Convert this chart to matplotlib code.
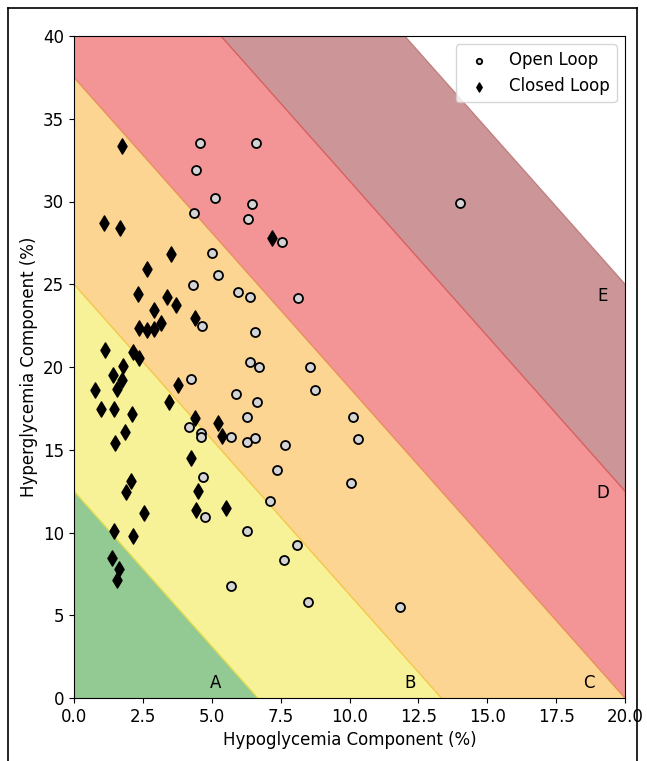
import numpy as np
import matplotlib
matplotlib.use('Agg')
from matplotlib import pyplot as plt
from matplotlib.lines import Line2D

# ----- data -----
open_hypo = [4.56, 6.62, 4.42, 5.11, 6.47, 4.34, 6.33, 7.54, 14.0, 5.0, 5.24, 4.31, 5.95, 6.40, 8.14,
             4.66, 6.58, 6.40, 6.72, 8.55, 4.25, 8.76, 5.89, 6.64, 6.27, 10.13, 4.19, 4.60, 4.61, 5.71,
             6.27, 6.58, 10.31, 7.67, 7.36, 4.67, 10.07, 7.11, 4.75, 6.27, 8.11, 7.63, 5.71, 8.48, 11.83]
open_hyper = [33.55, 33.55, 31.9, 30.19, 29.87, 29.28, 28.94, 27.53, 29.9, 26.9, 25.54, 24.97, 24.55, 24.22, 24.15,
              22.46, 22.11, 20.30, 20.0, 20.0, 19.27, 18.6, 18.35, 17.86, 16.97, 16.98, 16.37, 16.0, 15.77, 15.75,
              15.45, 15.68, 15.67, 15.29, 13.8, 13.33, 13.01, 11.92, 10.95, 10.11, 9.24, 8.34, 6.75, 5.80, 5.52]

closed_hypo = [1.74, 1.09, 1.67, 3.53, 2.64, 2.32, 3.39, 3.69, 2.92, 4.40, 3.15, 2.36, 2.64, 2.92, 1.13,
               2.15, 2.37, 1.78, 1.40, 1.75, 1.55, 0.75, 3.76, 3.46, 0.97, 1.44, 2.12, 4.38, 5.24, 1.85,
               5.36, 1.50, 4.24, 2.06, 1.89, 4.51, 5.51, 4.44, 2.53, 1.44, 2.15, 1.37, 1.62, 1.55, 7.19]
closed_hyper = [33.35, 28.72, 28.42, 26.83, 25.94, 24.39, 24.25, 23.75, 23.44, 22.94, 22.66, 22.34, 22.24, 22.30, 21.03,
                20.89, 20.56, 20.08, 19.5, 19.24, 18.65, 18.61, 18.93, 17.91, 17.46, 17.46, 17.16, 16.92, 16.6, 16.07,
                15.85, 15.42, 14.5, 13.13, 12.47, 12.5, 11.46, 11.36, 11.16, 10.07, 9.81, 8.48, 7.81, 7.13, 27.81]

# GRI = 3.0*hypo + 1.6*hyper, zone limits
gri_limits = [20, 40, 60, 80, 100]
zone_names = ['A', 'B', 'C', 'D', 'E']
zone_colors = ['#93c993', '#f7f197', '#fcd593', '#f39497', '#cc9597']
line_colors = ['#e0dc50', '#f5c64a', '#e8905a', '#d86060', '#c08080']

fig = plt.figure(figsize=(6.47, 7.61), dpi=100)
ax = fig.add_axes([74/647, 1-698/761, 551/647, 662/761])

x = np.linspace(0, 20, 801)
lower = np.zeros_like(x)
for g, c, lc in zip(gri_limits, zone_colors, line_colors):
	upper = np.maximum((g - 3.0*x)/1.6, 0)
	ax.fill_between(x, lower, upper, color=c, lw=0)
	ax.plot(x, (g - 3.0*x)/1.6, color=lc, lw=1)
	lower = upper

ax.scatter(open_hypo, open_hyper, marker='o', s=42, facecolor='#d4d4d4', edgecolor='black', lw=1.3,
	label='Open Loop', zorder=3)
ax.scatter(closed_hypo, closed_hyper, marker='d', s=60, color='black', label='Closed Loop', zorder=3)

# zone letters
ax.text(5.15, 0.9, 'A', fontsize=12, ha='center', va='center')
ax.text(12.2, 0.9, 'B', fontsize=12, ha='center', va='center')
ax.text(18.7, 0.9, 'C', fontsize=12, ha='center', va='center')
ax.text(19.2, 12.4, 'D', fontsize=12, ha='center', va='center')
ax.text(19.2, 24.3, 'E', fontsize=12, ha='center', va='center')

ax.set_xlim(0, 20)
ax.set_ylim(0, 40)
ax.set_xticks(np.arange(0, 20.1, 2.5))
ax.set_yticks(np.arange(0, 41, 5))
ax.tick_params(labelsize=12)
ax.set_xlabel('Hypoglycemia Component (%)', fontsize=12)
ax.set_ylabel('Hyperglycemia Component (%)', fontsize=12)
ax.legend(loc='upper right', fontsize=12, markerscale=0.6)

# frame round the figure
for xs, ys in [([8/647, 8/647], [0, 1-8/761]), ([8/647, 637/647], [1-8/761, 1-8/761]),
		([637/647, 637/647], [0, 1-8/761])]:
	fig.add_artist(Line2D(xs, ys, color='black', lw=1.2))

fig.savefig('out.png', dpi=100)
